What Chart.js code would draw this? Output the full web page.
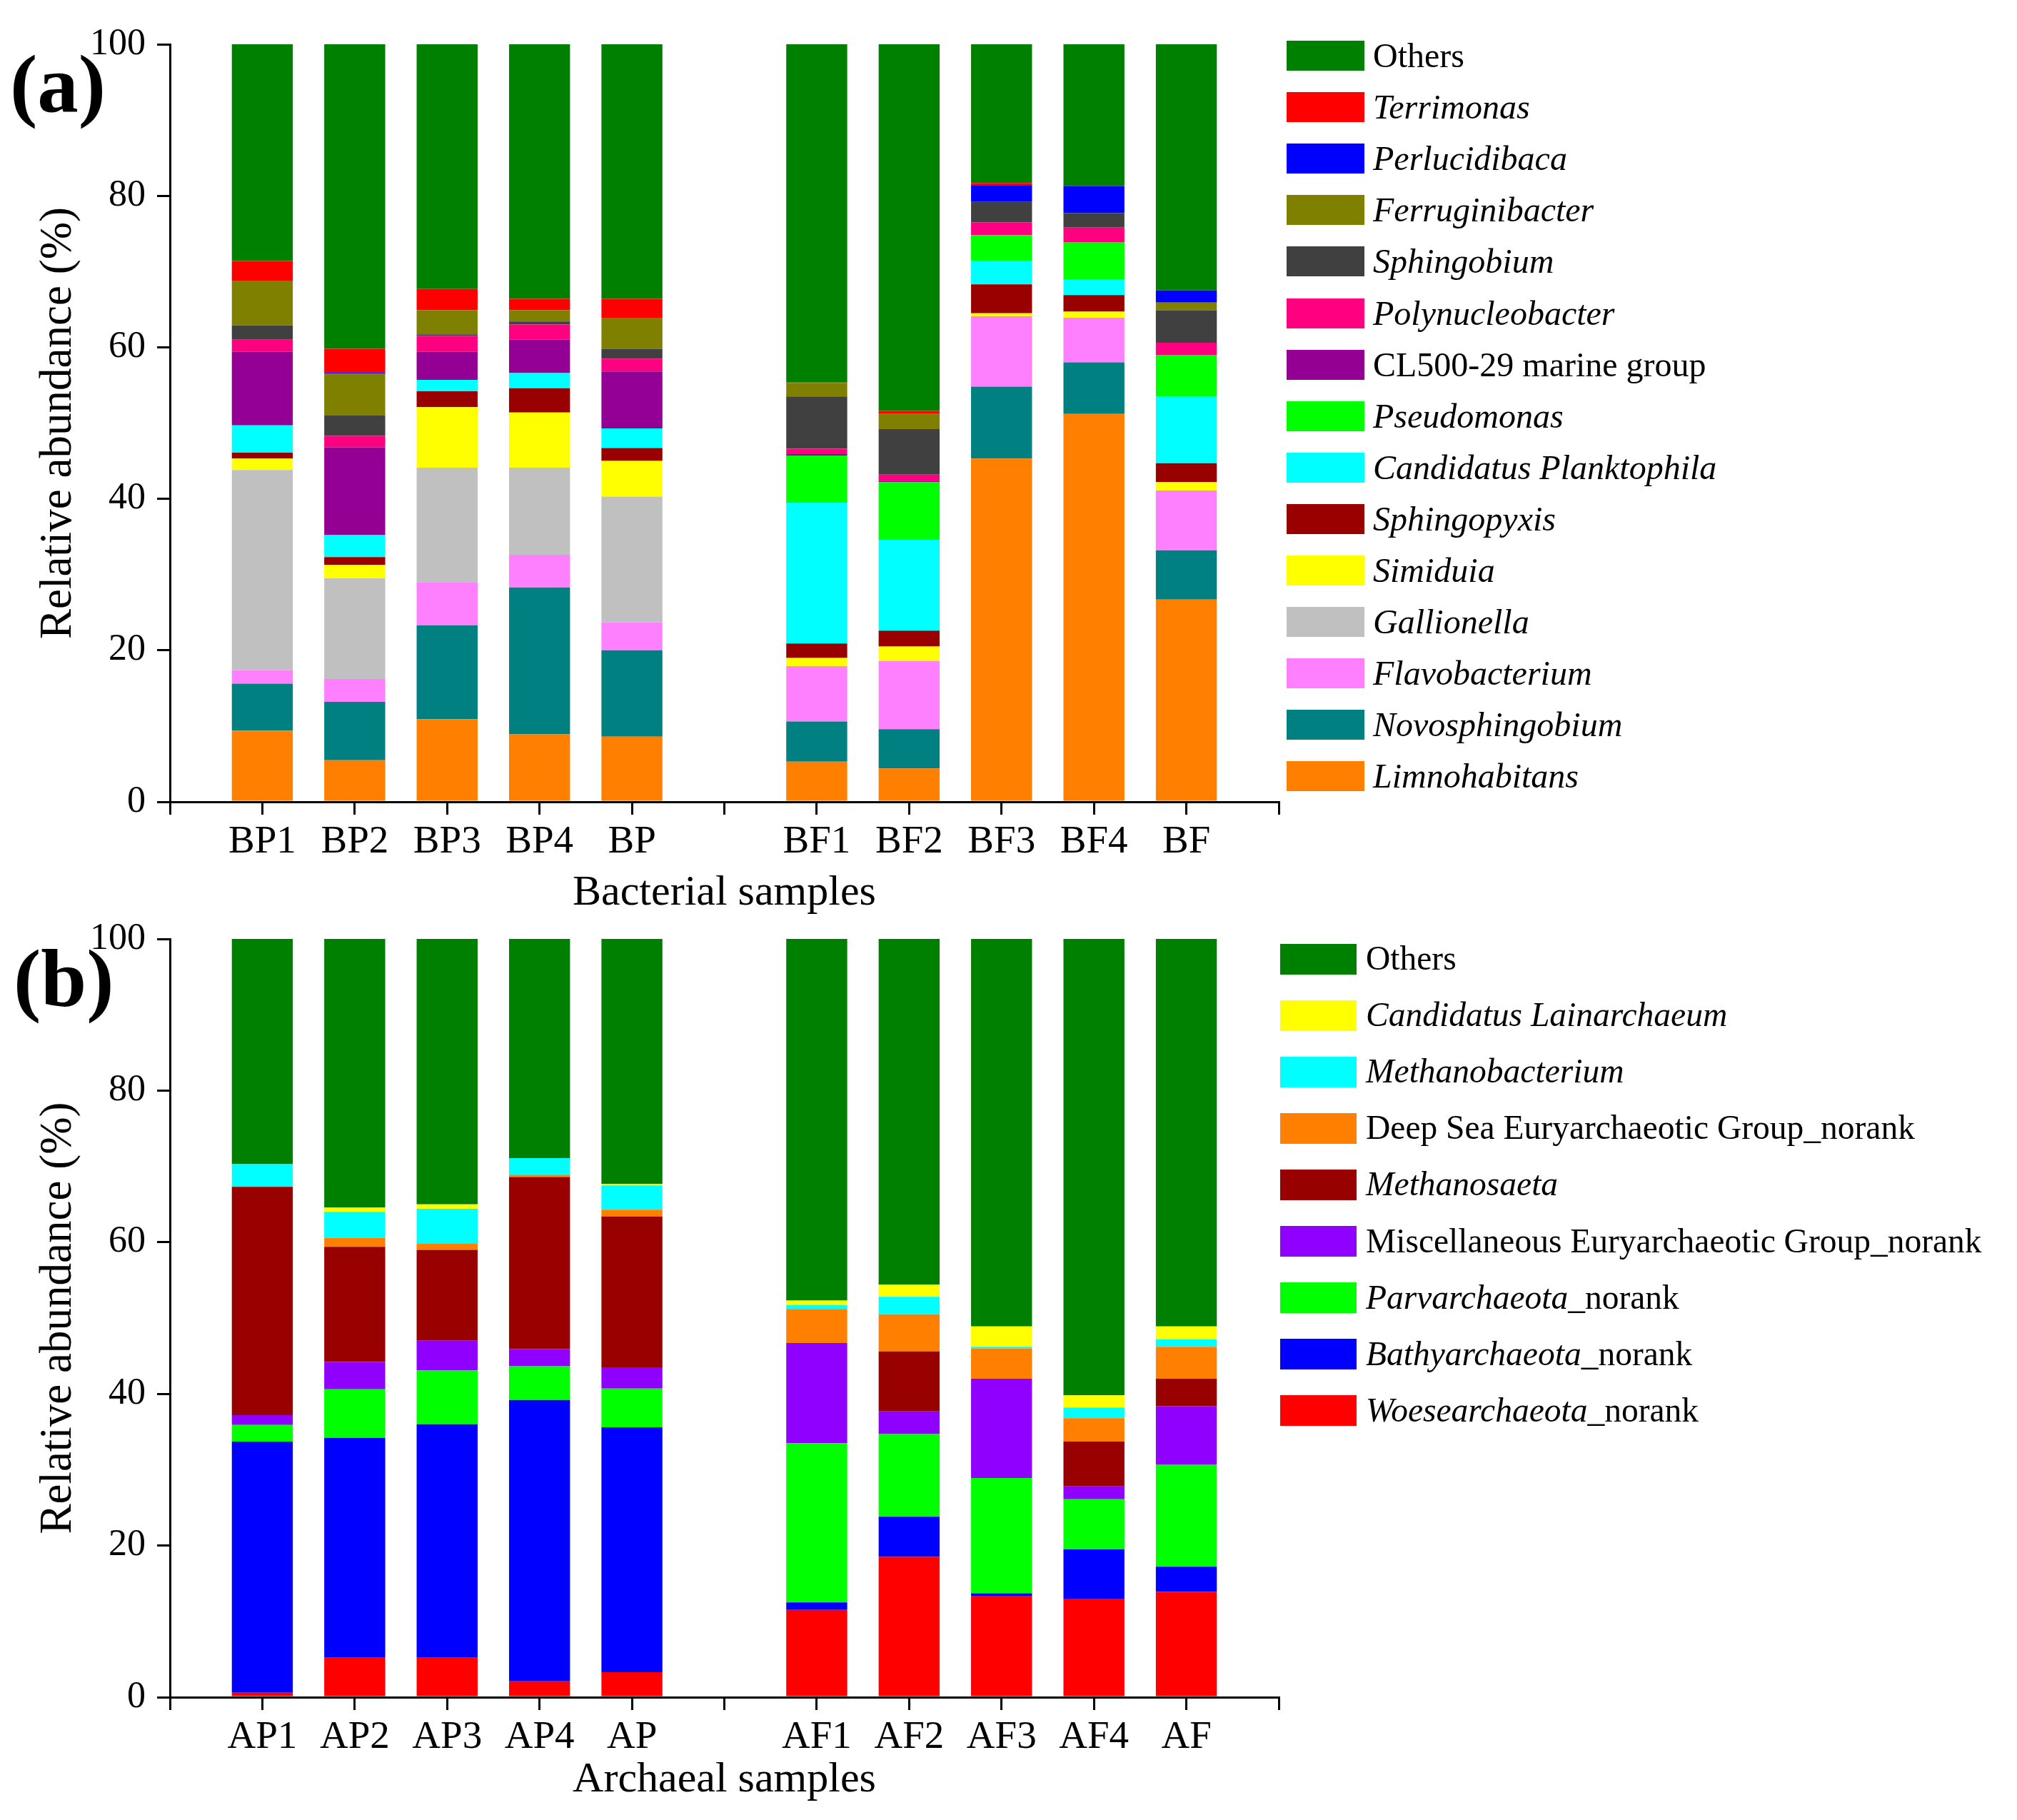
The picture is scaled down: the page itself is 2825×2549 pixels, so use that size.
<!DOCTYPE html>
<html>
<head>
<meta charset="utf-8">
<script src="https://cdn.jsdelivr.net/npm/chart.js@4.4.0/dist/chart.umd.min.js"></script>
<style>
  body { margin: 0; background: #fff; }
  #wrap { position: relative; width: 2825px; height: 2549px; overflow: hidden; font-family: 'Liberation Serif', 'Times New Roman', serif; color: #000; }
  canvas { position: absolute; left: 0; }
  .tag { position: absolute; font-weight: bold; font-size: 115px; line-height: 1; }
  .sw { position: absolute; }
  .lt { position: absolute; white-space: nowrap; line-height: 1; transform: translateY(-50%); }
</style>
</head>
<body>
<div id="wrap">
  <canvas id="chartA" width="2825" height="1300" style="top:0"></canvas>
  <canvas id="chartB" width="2825" height="1299" style="top:1250px"></canvas>
  <div class="tag" style="left:14px;top:60px">(a)</div>
  <div class="tag" style="left:19px;top:1313px">(b)</div>
</div>
<script>
// ====== DADOS ======
const bacSamples = ['BP1', 'BP2', 'BP3', 'BP4', 'BP', 'BF1', 'BF2', 'BF3', 'BF4', 'BF'];
const arcSamples = ['AP1', 'AP2', 'AP3', 'AP4', 'AP', 'AF1', 'AF2', 'AF3', 'AF4', 'AF'];

// bacteria (%), bottom of the stack first
const limnohabitans  = [9.4, 5.5, 10.9, 8.9, 8.6, 5.3, 4.4, 45.3, 51.2, 26.7];
const novosphingob   = [6.2, 7.7, 12.4, 19.4, 11.4, 5.3, 5.2, 9.5, 6.8, 6.5];
const flavobacterium = [1.8, 3.0, 5.7, 4.3, 3.7, 7.3, 9.0, 9.3, 5.9, 7.9];
const gallionella    = [26.4, 13.3, 15.1, 11.5, 16.6, 0, 0, 0, 0, 0];
const simiduia       = [1.5, 1.8, 8.0, 7.3, 4.7, 1.1, 1.9, 0.4, 0.8, 1.1];
const sphingopyxis   = [0.8, 1.0, 2.1, 3.2, 1.7, 1.9, 2.1, 3.8, 2.2, 2.5];
const planktophila   = [3.6, 2.9, 1.5, 2.0, 2.6, 18.6, 12.0, 3.1, 2.1, 8.8];
const pseudomonas    = [0, 0, 0, 0, 0, 6.2, 7.6, 3.4, 4.9, 5.5];
const cl500          = [9.7, 11.6, 3.7, 4.4, 7.5, 0.2, 0.2, 0, 0, 0];
const polynucleob    = [1.6, 1.5, 2.1, 2.0, 1.7, 0.7, 0.8, 1.7, 1.9, 1.6];
const sphingobium    = [1.9, 2.7, 0.2, 0.4, 1.3, 6.9, 6.0, 2.7, 1.9, 4.3];
const ferruginib     = [5.9, 5.5, 3.2, 1.5, 4.1, 1.8, 2.0, 0, 0, 1.0];
const perlucidibaca  = [0, 0.2, 0, 0, 0, 0, 0, 2.2, 3.6, 1.6];
const terrimonas     = [2.6, 3.1, 2.8, 1.5, 2.5, 0.1, 0.4, 0.3, 0, 0];
const bacOthers      = [28.6, 40.2, 32.3, 33.6, 33.6, 44.6, 48.4, 18.3, 18.7, 32.5];

const bacNames = ['Limnohabitans', 'Novosphingobium', 'Flavobacterium', 'Gallionella', 'Simiduia',
  'Sphingopyxis', 'Candidatus Planktophila', 'Pseudomonas', 'CL500-29 marine group', 'Polynucleobacter',
  'Sphingobium', 'Ferruginibacter', 'Perlucidibaca', 'Terrimonas', 'Others'];
const bacValues = [limnohabitans, novosphingob, flavobacterium, gallionella, simiduia, sphingopyxis,
  planktophila, pseudomonas, cl500, polynucleob, sphingobium, ferruginib, perlucidibaca, terrimonas, bacOthers];
// parte do nome em itálico
const bacItalic = bacNames.map(n => (n === 'Others' || n.startsWith('CL500')) ? '' : n);
const bacColors = ['#ff8000', '#008080', '#ff80ff', '#c0c0c0', '#ffff00', '#990000', '#00ffff',
  '#00ff00', '#930093', '#ff0080', '#404040', '#808000', '#0000ff', '#ff0000', '#008000'];

// archaea (%), bottom of the stack first
const woesearch   = [0.6, 5.2, 5.2, 2.1, 3.3, 11.5, 18.5, 13.3, 13.0, 13.9];
const bathyarch   = [33.1, 29.0, 30.8, 37.1, 32.3, 1.0, 5.3, 0.4, 6.5, 3.3];
const parvarch    = [2.2, 6.4, 7.1, 4.5, 5.1, 21.0, 10.9, 15.2, 6.6, 13.5];
const miscEury    = [1.3, 3.6, 3.9, 2.2, 2.8, 13.2, 3.0, 13.1, 1.7, 7.7];
const methanosae  = [30.1, 15.2, 12.0, 22.7, 19.9, 0, 7.9, 0, 5.9, 3.6];
const deepSea     = [0.1, 1.2, 0.8, 0.3, 0.9, 4.5, 4.9, 4.0, 3.1, 4.2];
const methanobact = [2.9, 3.4, 4.6, 2.2, 3.2, 0.5, 2.3, 0.2, 1.4, 1.0];
const lainarch    = [0, 0.6, 0.6, 0, 0.2, 0.6, 1.6, 2.7, 1.6, 1.7];
const arcOthers   = [29.7, 35.4, 35.0, 28.9, 32.3, 47.7, 45.6, 51.1, 60.2, 51.1];

const arcNames = ['Woesearchaeota_norank', 'Bathyarchaeota_norank', 'Parvarchaeota_norank',
  'Miscellaneous Euryarchaeotic Group_norank', 'Methanosaeta', 'Deep Sea Euryarchaeotic Group_norank',
  'Methanobacterium', 'Candidatus Lainarchaeum', 'Others'];
const arcValues = [woesearch, bathyarch, parvarch, miscEury, methanosae, deepSea, methanobact, lainarch, arcOthers];
const arcItalic = ['Woesearchaeota', 'Bathyarchaeota', 'Parvarchaeota', '', 'Methanosaeta', '',
  'Methanobacterium', 'Candidatus Lainarchaeum', ''];
const arcColors = ['#ff0000', '#0000ff', '#00ff00', '#8f00ff', '#990000', '#ff8000', '#00ffff', '#ffff00', '#008000'];

// ====== FUNÇÕES ======
const serif = "'Liberation Serif', 'Times New Roman', serif";

// categoria vazia nas pontas e entre os dois grupos
function padLabels(s) { return ['', ...s.slice(0, 5), '', ...s.slice(5), '']; }
function padData(v) { return [null, ...v.slice(0, 5), null, ...v.slice(5), null]; }

function makeChart(id, samples, names, values, colors, xTitle, L) {
  const axisGrid = { drawOnChartArea: false, offset: false, color: '#000', lineWidth: 3, tickLength: 18 };
  const axisBorder = { color: '#000', width: 3 };
  return new Chart(document.getElementById(id), {
    type: 'bar',
    data: {
      labels: padLabels(samples),
      datasets: names.map((n, i) => ({
        label: n,
        data: padData(values[i]),
        backgroundColor: colors[i],
        borderWidth: 0,
        barPercentage: 0.66,
        categoryPercentage: 1
      }))
    },
    options: {
      responsive: false,
      animation: false,
      devicePixelRatio: 1,
      layout: { padding: { top: L.top, right: 1034, bottom: 0, left: 0 } },
      plugins: { legend: { display: false }, tooltip: { enabled: false } },
      scales: {
        x: {
          stacked: true,
          offset: false,
          grid: axisGrid,
          border: axisBorder,
          ticks: { autoSkip: false, maxRotation: 0, color: '#000', padding: 6, font: { family: serif, size: 55 } },
          title: { display: true, text: xTitle, color: '#000', font: { family: serif, size: 60 }, padding: { top: 0, bottom: L.titleBottom } },
          afterFit: s => { s.height = L.xh; }
        },
        y: {
          stacked: true,
          min: 0,
          max: 100,
          grid: axisGrid,
          border: axisBorder,
          ticks: { stepSize: 20, color: '#000', padding: 16, font: { family: serif, size: 52 } },
          title: { display: true, text: 'Relative abundance (%)', color: '#000', font: { family: serif, size: 63 }, padding: { top: 45, bottom: 0 } },
          afterFit: s => { s.width = 238; }
        }
      }
    }
  });
}

function makeLegend(names, italic, colors, L) {
  const wrap = document.getElementById('wrap');
  for (let i = names.length - 1, k = 0; i >= 0; i--, k++) {
    const cy = L.top + k * L.step;
    const sw = document.createElement('div');
    sw.className = 'sw';
    sw.style.cssText = `left:${L.x}px;top:${cy - L.h / 2}px;width:${L.w}px;height:${L.h}px;background:${colors[i]}`;
    const t = document.createElement('div');
    t.className = 'lt';
    t.style.cssText = `left:${L.tx}px;top:${cy}px;font-size:${L.size}px`;
    const it = italic[i];
    if (it) {
      const e = document.createElement('i');
      e.textContent = it;
      t.appendChild(e);
    }
    t.appendChild(document.createTextNode(names[i].slice(it.length)));
    wrap.appendChild(sw);
    wrap.appendChild(t);
  }
}

// ====== INICIALIZAÇÃO ======
makeChart('chartA', bacSamples, bacNames, bacValues, bacColors, 'Bacterial samples', { top: 62, xh: 177, titleBottom: 13 });
makeChart('chartB', arcSamples, arcNames, arcValues, arcColors, 'Archaeal samples', { top: 65, xh: 172, titleBottom: 20 });
makeLegend(bacNames, bacItalic, bacColors, { x: 1802, w: 109, h: 42, tx: 1923, top: 78, step: 72.1, size: 48 });
makeLegend(arcNames, arcItalic, arcColors, { x: 1793, w: 107, h: 43, tx: 1913, top: 1343, step: 79.1, size: 47.5 });
</script>
</body>
</html>
